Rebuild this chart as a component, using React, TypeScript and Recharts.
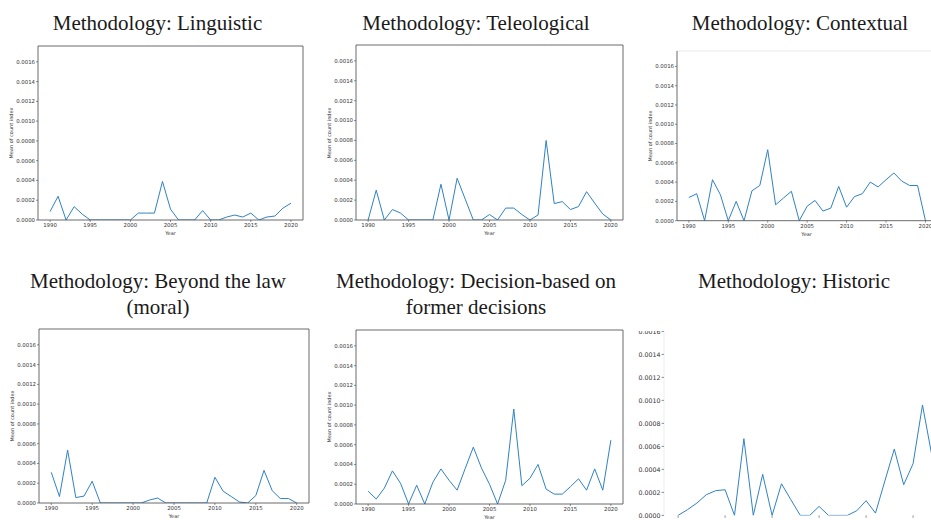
import React from "react";
import { LineChart, Line, XAxis, YAxis, ReferenceLine } from "recharts";

const years = [
  1990, 1991, 1992, 1993, 1994, 1995, 1996, 1997, 1998, 1999, 2000, 2001, 2002, 2003, 2004, 2005,
  2006, 2007, 2008, 2009, 2010, 2011, 2012, 2013, 2014, 2015, 2016, 2017, 2018, 2019, 2020,
];
const xTicks = [1990, 1995, 2000, 2005, 2010, 2015, 2020];
const yTicks = [0, 0.0002, 0.0004, 0.0006, 0.0008, 0.001, 0.0012, 0.0014, 0.0016];

const linguistic = [
  0.000085, 0.00024, 0, 0.000135, 0.00006, 0, 0, 0, 0, 0, 0, 0.00007, 0.00007, 0.00007, 0.00039, 0.00011,
  0, 0, 0, 0.000095, 0, 0, 0.00003, 0.00005, 0.00003, 0.00007, 0, 0.00003, 0.00004, 0.00012, 0.00017,
];
const teleological = [
  0, 0.0003, 0, 0.000105, 0.00007, 0, 0, 0, 0, 0.00036, 0, 0.00042, 0.00021, 0, 0, 0.000055,
  0, 0.00012, 0.00012, 0.000055, 0, 0.00005, 0.0008, 0.000165, 0.000185, 0.000105, 0.000135, 0.000285, 0.00017, 0.00006, 0,
];
const contextual = [
  0.00024, 0.00028, 0, 0.000425, 0.00027, 0, 0.0002, 0, 0.00031, 0.000365, 0.000736, 0.000165, 0.000235, 0.000305, 0, 0.00015,
  0.00021, 0.0001, 0.00013, 0.000355, 0.00014, 0.00025, 0.00028, 0.0004, 0.00035, 0.000425, 0.000495, 0.00041, 0.000365, 0.000365, 0,
];
const beyondLaw = [
  0.00031, 0.000065, 0.000535, 0.000055, 0.00007, 0.00022, 0, 0, 0, 0, 0, 0, 0.00003, 0.00005, 0, 0,
  0, 0, 0, 0, 0.00026, 0.00012, 0.000065, 0.00001, 0, 0.000075, 0.00033, 0.000125, 0.000045, 0.000045, 0,
];
const decisionBased = [
  0.00013, 0.00005, 0.00016, 0.000335, 0.00021, 0, 0.00019, 0, 0.00022, 0.000355, 0.00024, 0.00014, 0.00036, 0.000575, 0.000365, 0.0002,
  0, 0.00024, 0.00096, 0.000185, 0.00026, 0.0004, 0.00015, 0.0001, 0.0001, 0.000175, 0.000255, 0.00014, 0.000355, 0.00014, 0.000645,
];
// only visible up to 2017 in the cropped panel
const historic = [
  0, 0.00005, 0.000107, 0.00018, 0.000215, 0.000223, 0, 0.000667, 0, 0.000357, 0, 0.000275, 0.000136, 0, 0, 0.000078,
  0, 0, 0, 0.00004, 0.000128, 0.00002, 0.0003, 0.000577, 0.000267, 0.00045, 0.00096, 0.00052,
];

const X_MIN = 1988.5;
const X_MAX = 2021.5;
const Y_MAX = 0.00176;
const BLUE = "#2f82c2";
const SPINE = "#444";

type Box = { x0: number; y0: number; x1: number; y1: number };
type Clip = { left: number; top: number; width: number; height: number };

type PanelProps = {
  values: number[];
  clip: Clip;
  plot: Box;
  fontSize: number;
  tickSize: number;
  topStroke?: string;
  leftStroke?: string;
  bottomLine?: boolean;
  cropped?: boolean;
};

const Panel = ({
  values,
  clip,
  plot,
  fontSize,
  tickSize,
  topStroke = SPINE,
  leftStroke = SPINE,
  bottomLine = true,
  cropped = false,
}: PanelProps) => {
  const data = values.map((v, i) => ({ year: years[i], value: v }));
  const YW = 44;
  const M = 6;
  const XH = 24;
  const pw = plot.x1 - plot.x0;
  const ph = plot.y1 - plot.y0;
  const tickStyle = { fontSize, fill: "#333", fontFamily: "DejaVu Sans" };
  const labelStyle: React.CSSProperties = {
    position: "absolute",
    fontFamily: "DejaVu Sans",
    fontSize: 5,
    color: "#333",
    whiteSpace: "nowrap",
    lineHeight: 1,
  };
  return (
    <div style={{ position: "absolute", left: clip.left, top: clip.top, width: clip.width, height: clip.height, overflow: "hidden" }}>
      <div style={{ position: "absolute", left: plot.x0 - YW - clip.left, top: plot.y0 - M - clip.top }}>
        <LineChart width={YW + pw + M} height={M + ph + XH} data={data} margin={{ top: M, right: M, left: 0, bottom: 0 }}>
          <XAxis
            dataKey="year"
            type="number"
            domain={[X_MIN, X_MAX]}
            ticks={xTicks}
            interval={0}
            height={XH}
            allowDataOverflow
            tick={tickStyle}
            tickSize={tickSize}
            tickMargin={1}
            tickFormatter={(v: number) => (cropped ? "" : String(v))}
            axisLine={bottomLine ? { stroke: SPINE, strokeWidth: 0.8 } : false}
            tickLine={{ stroke: SPINE, strokeWidth: 0.6 }}
          />
          <YAxis
            type="number"
            domain={[0, Y_MAX]}
            ticks={yTicks}
            interval={0}
            width={YW}
            allowDataOverflow
            tick={tickStyle}
            tickSize={tickSize}
            tickMargin={1}
            tickFormatter={(v: number) => v.toFixed(4)}
            axisLine={{ stroke: leftStroke, strokeWidth: 0.8 }}
            tickLine={{ stroke: SPINE, strokeWidth: 0.6 }}
          />
          <ReferenceLine y={Y_MAX} stroke={topStroke} strokeWidth={0.8} />
          <ReferenceLine x={X_MAX} stroke={SPINE} strokeWidth={0.8} />
          <Line type="linear" dataKey="value" stroke={BLUE} strokeWidth={1} dot={false} isAnimationActive={false} />
        </LineChart>
      </div>
      {!cropped && (
        <>
          <div
            style={{
              ...labelStyle,
              left: plot.x0 - 27 - clip.left,
              top: (plot.y0 + plot.y1) / 2 - clip.top,
              transform: "translate(-50%, -50%) rotate(-90deg)",
            }}
          >
            Mean of count index
          </div>
          <div
            style={{
              ...labelStyle,
              left: (plot.x0 + plot.x1) / 2 - clip.left,
              top: plot.y1 + 12.8 - clip.top,
              transform: "translate(-50%, -50%)",
            }}
          >
            Year
          </div>
        </>
      )}
    </div>
  );
};

const Title = ({ cx, top, lines }: { cx: number; top: number; lines: string[] }) => (
  <div
    style={{
      position: "absolute",
      left: cx - 200,
      top,
      width: 400,
      textAlign: "center",
      fontFamily: "'Liberation Serif', 'Times New Roman', serif",
      fontSize: 21,
      lineHeight: "26px",
      color: "#1a1a1a",
      whiteSpace: "nowrap",
    }}
  >
    {lines.map((l) => (
      <div key={l}>{l}</div>
    ))}
  </div>
);

const App: React.FC = () => {
  return (
    <div style={{ position: "absolute", left: 0, top: 0, width: 931, height: 520, overflow: "hidden", background: "#fff" }}>
      <Title cx={157.5} top={10} lines={["Methodology: Linguistic"]} />
      <Title cx={476} top={10} lines={["Methodology: Teleological"]} />
      <Title cx={800} top={10} lines={["Methodology: Contextual"]} />
      <Title cx={158} top={268} lines={["Methodology: Beyond the law", "(moral)"]} />
      <Title cx={476} top={268} lines={["Methodology: Decision-based on", "former decisions"]} />
      <Title cx={794} top={268} lines={["Methodology: Historic"]} />

      <Panel values={linguistic} clip={{ left: 0, top: 40, width: 310, height: 205 }} plot={{ x0: 38, y0: 46, x1: 303, y1: 220 }} fontSize={5.4} tickSize={2} />
      <Panel values={teleological} clip={{ left: 310, top: 40, width: 320, height: 205 }} plot={{ x0: 356, y0: 45, x1: 623, y1: 220 }} fontSize={5.4} tickSize={2} />
      <Panel
        values={contextual}
        clip={{ left: 630, top: 45, width: 301, height: 200 }}
        plot={{ x0: 676.5, y0: 51.3, x1: 936.8, y1: 221 }}
        fontSize={5.4}
        tickSize={2}
        topStroke="#e4e4e4"
      />
      <Panel values={beyondLaw} clip={{ left: 0, top: 322, width: 315, height: 198 }} plot={{ x0: 39, y0: 329, x1: 309, y1: 503 }} fontSize={5.4} tickSize={2} />
      <Panel values={decisionBased} clip={{ left: 315, top: 322, width: 315, height: 198 }} plot={{ x0: 356, y0: 330, x1: 623, y1: 504 }} fontSize={5.4} tickSize={2} />
      <Panel
        values={historic}
        clip={{ left: 630, top: 331, width: 301, height: 189 }}
        plot={{ x0: 663.6, y0: 313.3, x1: 973.8, y1: 515.7 }}
        fontSize={6.3}
        tickSize={2.4}
        leftStroke="#e8e8e8"
        bottomLine={false}
        cropped
      />
    </div>
  );
};

export default App;
